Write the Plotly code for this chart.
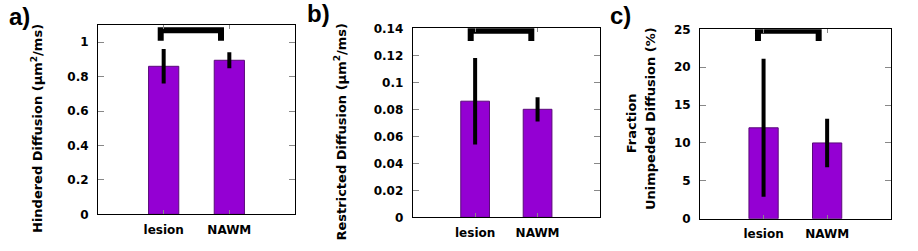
import plotly.graph_objects as go

categories = ["lesion", "NAWM"]
cat_pos = [0, 1]

hindered = [0.86, 0.895]
hindered_err = [0.10, 0.046]
restricted = [0.086, 0.080]
restricted_err = [0.032, 0.009]
unimpeded = [12.0, 10.0]
unimpeded_err = [9.1, 3.2]

# significance brackets (x in category units, y in data units)
bracket_a_x = [-0.045, -0.045, 0.873, 0.873]
bracket_a_y = [1.008, 1.07, 1.07, 1.008]
bracket_b_x = [-0.071, -0.071, 0.90, 0.90]
bracket_b_y = [0.1306, 0.1381, 0.1381, 0.1306]
bracket_c_x = [-0.088, -0.088, 0.867, 0.867]
bracket_c_y = [23.46, 24.82, 24.82, 23.46]

W, H = 918, 251
BAR = "#9400D3"
FONT = "DejaVu Sans"

fig = go.Figure()

panels = [
    ("x", "y", hindered, hindered_err, bracket_a_x, bracket_a_y),
    ("x2", "y2", restricted, restricted_err, bracket_b_x, bracket_b_y),
    ("x3", "y3", unimpeded, unimpeded_err, bracket_c_x, bracket_c_y),
]
for xa, ya, vals, errs, bx, by in panels:
    fig.add_trace(go.Bar(
        x=cat_pos, y=vals, xaxis=xa, yaxis=ya, width=0.46,
        marker=dict(color=BAR, line=dict(color="#5a0a7a", width=1)),
        error_y=dict(type="data", array=errs, color="black", thickness=4, width=0),
        showlegend=False, hoverinfo="skip",
    ))
    fig.add_trace(go.Scatter(
        x=bx, y=by, xaxis=xa, yaxis=ya, mode="lines",
        line=dict(color="black", width=6), cliponaxis=False,
        showlegend=False, hoverinfo="skip",
    ))

def px_x(p):
    return p / W

def px_y(p):
    return 1 - p / H

tickfont = dict(family=FONT, size=12, color="black", weight="bold")

def xaxis(x0, x1, anchor):
    return dict(domain=[px_x(x0), px_x(x1)], anchor=anchor, range=[-1, 2],
                tickvals=cat_pos, ticktext=categories, ticks="inside", ticklen=4,
                tickcolor="#888", tickwidth=1, showline=True, linecolor="black",
                linewidth=1, mirror="ticks", showgrid=False, zeroline=False,
                tickfont=tickfont, ticklabelstandoff=4, fixedrange=True,
                automargin=False)

def yaxis(y_top, y_bot, anchor, rng, dtick):
    return dict(domain=[px_y(y_bot), px_y(y_top)], anchor=anchor, range=rng,
                dtick=dtick, tick0=0, ticks="inside", ticklen=6, tickcolor="#888",
                tickwidth=1, showline=True, linecolor="black", linewidth=1,
                mirror="ticks", showgrid=False, zeroline=False,
                tickfont=tickfont, ticklabelstandoff=6, fixedrange=True,
                automargin=False)

fig.update_layout(
    template="none",
    width=W, height=H,
    margin=dict(l=0, r=0, t=0, b=0, pad=0),
    paper_bgcolor="white", plot_bgcolor="white",
    xaxis=xaxis(98, 295, "y"),
    yaxis=yaxis(25, 214.3, "x", [0, 1.1], 0.2),
    xaxis2=xaxis(412.7, 600, "y2"),
    yaxis2=yaxis(28.3, 217.3, "x2", [0, 0.14], 0.02),
    xaxis3=xaxis(700, 890.7, "y3"),
    yaxis3=yaxis(29.3, 218.7, "x3", [0, 25], 5),
)

labfont = dict(family=FONT, size=13, color="black", weight="bold")
titles = [
    ("Hindered Diffusion (μm<sup>2</sup>/ms)", 37, 129),
    ("Restricted Diffusion (μm<sup>2</sup>/ms)", 340, 131.5),
    ("Fraction", 631.7, 123.5),
    ("Unimpeded Diffusion (%)", 650, 119),
]
for txt, cx, cy in titles:
    fig.add_annotation(text=txt, xref="paper", yref="paper", x=px_x(cx), y=px_y(cy),
                       xanchor="center", yanchor="middle", textangle=-90,
                       showarrow=False, font=labfont, borderpad=0)

panel_labels = [("a)", 8, 16.5), ("b)", 306, 14), ("c)", 609, 16)]
for txt, lx, ly in panel_labels:
    fig.add_annotation(text=txt, xref="paper", yref="paper", x=px_x(lx), y=px_y(ly),
                       xanchor="left", yanchor="middle", showarrow=False, borderpad=0,
                       font=dict(family="Liberation Sans", size=24, color="black", weight="bold"))

fig.write_html("out.html", config={"displayModeBar": False},
               post_script="document.body.style.margin='0';")
